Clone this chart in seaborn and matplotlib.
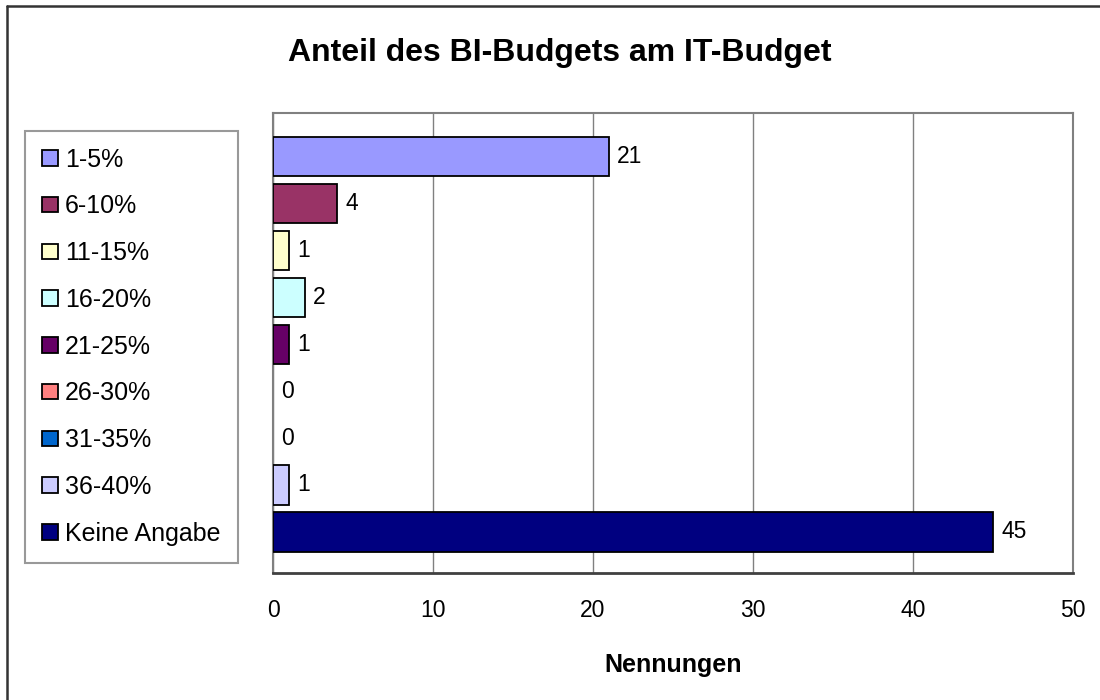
import matplotlib
matplotlib.use("Agg")
import matplotlib.pyplot as plt
from matplotlib.patches import Patch
import seaborn as sns
import pandas as pd

# chart data
categories = ["1-5%", "6-10%", "11-15%", "16-20%", "21-25%",
              "26-30%", "31-35%", "36-40%", "Keine Angabe"]
counts = [21, 4, 1, 2, 1, 0, 0, 1, 45]
colors = ["#9999FF", "#993366", "#FFFFCC", "#CCFFFF", "#660066",
          "#FF8080", "#0066CC", "#CCCCFF", "#000080"]
x_ticks = [0, 10, 20, 30, 40, 50]

df = pd.DataFrame({"Kategorie": categories, "Nennungen": counts})

sns.set_style("white")
plt.rcParams["font.family"] = ["Liberation Sans", "DejaVu Sans"]
plt.rcParams["text.color"] = "black"
plt.rcParams["axes.labelcolor"] = "black"
plt.rcParams["xtick.color"] = "black"

fig = plt.figure(figsize=(11, 7), dpi=100)
ax = fig.add_axes([273 / 1100, 1 - 572.7 / 700, 800 / 1100, 460 / 700])

sns.barplot(data=df, x="Nennungen", y="Kategorie", hue="Kategorie",
            palette=colors, orient="h", width=0.84, edgecolor="black",
            linewidth=1.3, legend=False, saturation=1, ax=ax, zorder=3)

# empty bars get no outline
for patch in ax.patches:
    if patch.get_width() == 0:
        patch.set_linewidth(0)

ax.set_xlim(0, 50)
ax.set_ylim(8.872, -0.938)
ax.set_xticks(x_ticks)
ax.set_xticklabels([str(t) for t in x_ticks], fontsize=16.5)
ax.set_yticks([])
ax.set_ylabel("")
ax.set_xlabel("Nennungen", fontsize=18, fontweight="bold", labelpad=22)
ax.tick_params(axis="x", direction="out", length=6, width=1.2,
               color="#404040", labelcolor="black", pad=13)
ax.xaxis.grid(True, color="#808080", linewidth=1.0, zorder=0)

for side in ["top", "right", "left"]:
    ax.spines[side].set_color("#808080")
    ax.spines[side].set_linewidth(1.5)
ax.spines["bottom"].set_color("#404040")
ax.spines["bottom"].set_linewidth(2)

# value labels next to bars
for i, v in enumerate(counts):
    ax.annotate(str(v), xy=(v, i), xytext=(6, 0), textcoords="offset points",
                ha="left", va="center", fontsize=16.5, color="black")

# legend on the left
handles = [Patch(facecolor=c, edgecolor="black", linewidth=1.3) for c in colors]
leg = fig.legend(handles, categories, loc="upper left",
                 bbox_to_anchor=(24.7 / 1100, 1 - 130.7 / 700),
                 bbox_transform=fig.transFigure, fontsize=18,
                 frameon=True, fancybox=False, borderaxespad=0,
                 borderpad=0.68, labelspacing=0.91, handlelength=0.66,
                 handleheight=0.58, handletextpad=0.28)
leg.get_frame().set_edgecolor("#808080")
leg.get_frame().set_linewidth(1.5)
for t in leg.get_texts():
    t.set_color("black")

fig.text(560 / 1100, 1 - 53 / 700, "Anteil des BI-Budgets am IT-Budget",
         ha="center", va="center", fontsize=23, fontweight="bold", color="black")

# outer chart border (left and top visible)
fig.add_artist(plt.Line2D([7 / 1100, 7 / 1100], [0, 1 - 6 / 700],
                          transform=fig.transFigure, color="#333333", linewidth=1.8))
fig.add_artist(plt.Line2D([7 / 1100, 1], [1 - 6 / 700, 1 - 6 / 700],
                          transform=fig.transFigure, color="#333333", linewidth=1.8))

fig.savefig("out.png", dpi=100, facecolor="white")
